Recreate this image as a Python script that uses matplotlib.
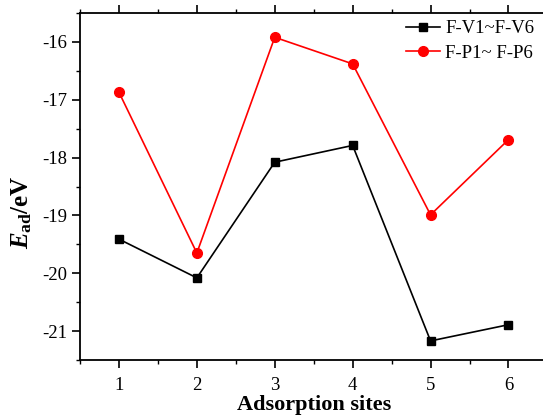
import matplotlib
matplotlib.use("Agg")
import matplotlib.pyplot as plt
from matplotlib.ticker import MultipleLocator

plt.rcParams['font.family'] = ['Liberation Serif']
plt.rcParams['axes.unicode_minus'] = False
plt.rcParams['mathtext.fontset'] = 'custom'
plt.rcParams['mathtext.it'] = 'Liberation Serif:bold:italic'
plt.rcParams['mathtext.rm'] = 'Liberation Serif:bold'
plt.rcParams['mathtext.bf'] = 'Liberation Serif:bold'

sites = [1, 2, 3, 4, 5, 6]
fv = [-19.41, -20.08, -18.08, -17.79, -21.17, -20.89]
fp = [-16.87, -19.65, -15.92, -16.38, -18.99, -17.69]
labels = ['F-V1~F-V6', 'F-P1~ F-P6']

fig = plt.figure(figsize=(5.43, 4.17), dpi=100)
ax = fig.add_axes([80/543, 1-360/417, 467.4/543, 347/417])
ax.plot(sites, fv, color='black', marker='s', markersize=6, lw=1.2, label=labels[0])
ax.plot(sites, fp, color='red', marker='o', markersize=7, lw=1.2, label=labels[1])
ax.set_xlim(0.5, 6.5)
ax.set_ylim(-21.5, -15.5)
ax.xaxis.set_major_locator(MultipleLocator(1))
ax.xaxis.set_minor_locator(MultipleLocator(0.5))
ax.yaxis.set_major_locator(MultipleLocator(1))
ax.yaxis.set_minor_locator(MultipleLocator(0.5))
ax.tick_params(which='major', direction='out', length=6, width=1.2, labelsize=13.5)
ax.tick_params(which='minor', direction='out', length=3, width=1.0)
ax.tick_params(axis='x', which='both', top=True)
ax.tick_params(axis='x', which='major', pad=6)
for s in ax.spines.values():
    s.set_linewidth(1.3)
ax.set_xlabel('Adsorption sites', fontsize=16, fontweight='bold', labelpad=1)
ax.set_ylabel(r'$E_{\mathrm{ad}}$/eV', fontsize=18, fontweight='bold')
ax.yaxis.set_label_coords(-0.099, 0.4265)
fig.legend(loc='upper left', bbox_to_anchor=(406/543, 1-20/417), frameon=False,
           fontsize=13.5, handlelength=1.8, handletextpad=0.3, labelspacing=0.4,
           borderaxespad=0, borderpad=0)
fig.savefig('out.png', dpi=100)
